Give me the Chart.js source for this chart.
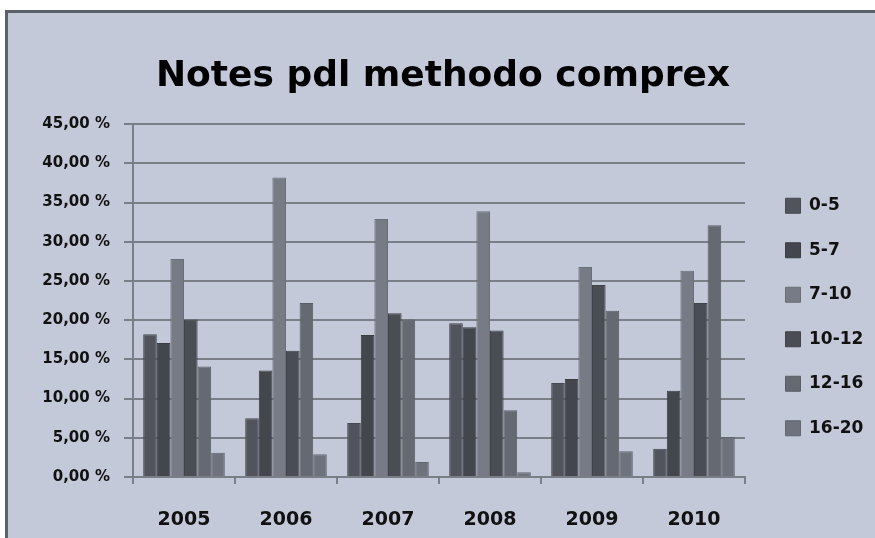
<!doctype html>
<html lang="fr">
  <head>
    <meta charset="UTF-8" />
    <title>Notes pdl methodo comprex</title>
    <script src="https://cdn.jsdelivr.net/npm/chart.js"></script>
    <style>
      html, body { margin: 0; padding: 0; background: #fff; overflow: hidden; }
      #box {
        position: absolute;
        left: 5px;
        top: 10px;
        width: 870px;
        height: 528px;
        border-left: 3px solid #5c6068;
        border-top: 3px solid #5c6068;
        background: #c3c9d8;
      }
      canvas { display: block; }
    </style>
  </head>
  <body>
    <div id="box">
      <canvas id="chart" width="870" height="525"></canvas>
    </div>

    <script>
      const years = ["2005", "2006", "2007", "2008", "2009", "2010"];
      const ranges = ["0-5", "5-7", "7-10", "10-12", "12-16", "16-20"];
      const colors = ["#51545d", "#44464d", "#777b85", "#4a4d54", "#656971", "#6e727c"];
      const edges = ["#464951", "#3b3d43", "#6a6e77", "#404349", "#5a5e66", "#62666f"];

      // percent of students per grade range, one array per range
      const r0_5 = [18.2, 7.5, 6.9, 19.6, 12.0, 3.6];
      const r5_7 = [17.1, 13.6, 18.1, 19.1, 12.5, 11.0];
      const r7_10 = [27.8, 38.2, 32.9, 33.9, 26.8, 26.3];
      const r10_12 = [20.1, 16.1, 20.9, 18.7, 24.5, 22.2];
      const r12_16 = [14.1, 22.2, 20.1, 8.5, 21.2, 32.1];
      const r16_20 = [3.1, 2.9, 1.9, 0.6, 3.3, 5.1];
      const series = [r0_5, r5_7, r7_10, r10_12, r12_16, r16_20];

      const FONT = "'DejaVu Sans', sans-serif";
      const gridColor = "#7a7e87";

      // legend sits a bit away from the plot and lower down
      const legendShift = {
        id: "legendShift",
        beforeInit(chart) {
          const fit = chart.legend.fit;
          chart.legend.fit = function () {
            fit.call(this);
            this.width = 133;
          };
        },
        afterLayout(chart) {
          const lg = chart.legend;
          lg.left += 13;
          lg.right += 13;
          lg.top += 47;
          lg.bottom += 47;
        },
      };

      new Chart(document.getElementById("chart"), {
        type: "bar",
        data: {
          labels: years,
          datasets: ranges.map((r, i) => ({
            label: r,
            data: series[i],
            backgroundColor: colors[i],
            borderColor: edges[i],
            borderWidth: 1,
            categoryPercentage: 0.8,
            barPercentage: 1.0,
          })),
        },
        plugins: [legendShift],
        options: {
          responsive: false,
          animation: false,
          layout: { padding: { left: 0, right: 0, top: 0, bottom: 11 } },
          plugins: {
            title: {
              display: true,
              text: "Notes pdl methodo comprex",
              color: "#000",
              font: { family: FONT, size: 36, weight: "bold" },
              padding: { top: 42, bottom: 26 },
            },
            legend: {
              position: "right",
              labels: {
                color: "#111",
                font: { family: FONT, size: 17, weight: "bold" },
                boxWidth: 15,
                boxHeight: 15,
                padding: 27.5,
              },
            },
            tooltip: { enabled: false },
          },
          scales: {
            x: {
              afterFit(scale) {
                scale.height = 50;
              },
              grid: {
                display: true,
                drawOnChartArea: false,
                color: gridColor,
                lineWidth: 2,
                tickLength: 7,
                offset: true,
              },
              border: { color: gridColor, width: 2 },
              ticks: {
                color: "#111",
                font: { family: FONT, size: 19, weight: "bold" },
                padding: 25,
              },
            },
            y: {
              min: 0,
              max: 45,
              afterFit(scale) {
                scale.width = 125;
              },
              grid: { color: gridColor, lineWidth: 2, tickLength: 9 },
              border: { color: gridColor, width: 2 },
              ticks: {
                stepSize: 5,
                color: "#111",
                font: { family: FONT, size: 15, weight: "bold" },
                padding: 14,
                callback: (v) => v.toFixed(2).replace(".", ",") + " %",
              },
            },
          },
        },
      });
    </script>
  </body>
</html>
